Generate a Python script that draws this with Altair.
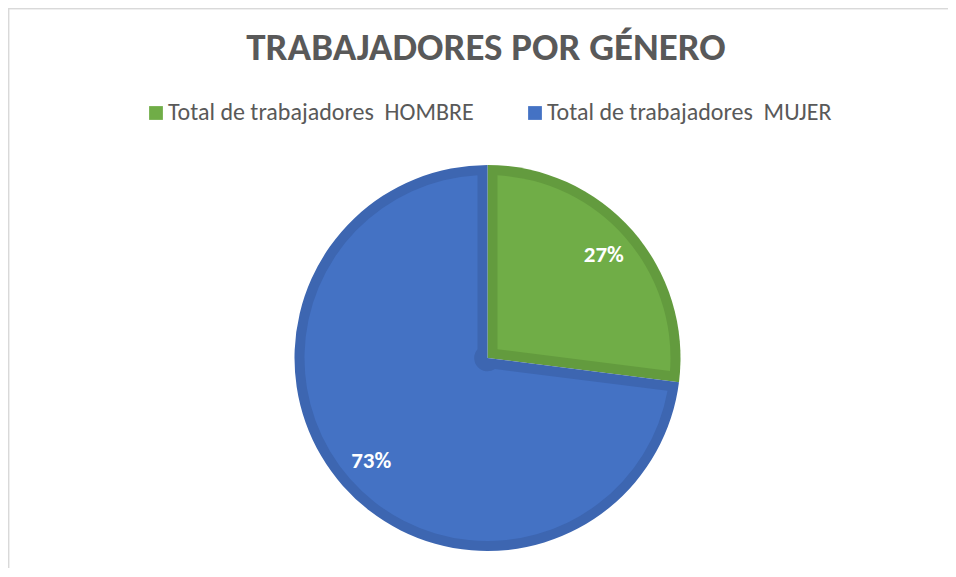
import math
import altair as alt
import pandas as pd

categories = ["Total de trabajadores\u00a0 HOMBRE", "Total de trabajadores\u00a0 MUJER"]
values = [27, 73]
labels = ["27%", "73%"]
order = [0, 1]
light_colors = ["#70AD47", "#4472C4"]
dark_colors = ["#639B3E", "#3D66B1"]

df = pd.DataFrame({
    "cat": categories,
    "value": values,
    "label": labels,
    "idx": order,
    "dark": dark_colors,
})

FONT = "Calibri, Carlito, 'Open Sans', sans-serif"
W, H = 940, 560
CX, CY = 479.5, 350
R_OUT = 193
BAND = 10
R_IN = R_OUT - BAND
APEX = 13.3
pad = 2 * math.asin(BAND / math.sqrt(APEX ** 2 + R_IN ** 2))

base = alt.Chart(df)
theta = alt.Theta("value:Q", stack=True)
ordr = alt.Order("idx:Q")

dark = base.mark_arc(outerRadius=R_OUT, strokeWidth=0).encode(
    theta=theta,
    order=ordr,
    fill=alt.Fill("dark:N", scale=None),
    x=alt.value(CX),
    y=alt.value(CY),
)

light = base.mark_arc(outerRadius=R_IN, innerRadius=APEX, padAngle=pad, strokeWidth=0).encode(
    theta=theta,
    order=ordr,
    color=alt.Color(
        "cat:N",
        scale=alt.Scale(domain=categories, range=light_colors),
        sort=categories,
        legend=alt.Legend(
            title=None,
            orient="none",
            legendX=136,
            legendY=93,
            direction="horizontal",
            symbolType="square",
            symbolSize=190,
            symbolStrokeWidth=0,
            labelFont=FONT,
            labelFontSize=24,
            labelColor="#595959",
            labelOffset=0,
            columnPadding=49,
            labelLimit=0,
            padding=0,
        ),
    ),
    x=alt.value(CX),
    y=alt.value(CY),
)

text = base.mark_text(
    font=FONT, fontSize=23, fontWeight="bold", color="white", radius=155
).encode(
    theta=theta,
    order=ordr,
    text="label:N",
    x=alt.value(CX),
    y=alt.value(CY),
)

border_left = base.mark_rule(color="#D9D9D9", strokeWidth=1.5).encode(
    x=alt.value(0.5), y=alt.value(0), y2=alt.value(H)
)
border_top = base.mark_rule(color="#D9D9D9", strokeWidth=1.5).encode(
    y=alt.value(0.5), x=alt.value(0), x2=alt.value(W)
)

chart = alt.layer(border_left, border_top, dark, light, text).properties(
    width=W,
    height=H,
    autosize=alt.AutoSizeParams(type="none"),
    padding=0,
    title=alt.TitleParams(
        "TRABAJADORES POR GÉNERO",
        font=FONT,
        fontSize=39,
        fontWeight="bold",
        color="#595959",
        anchor="middle",
        frame="group",
        baseline="alphabetic",
        offset=-92,
        dx=8,
    ),
).configure_view(stroke=None).configure(background="white")

chart.save("out.html", embed_options={"renderer": "svg", "actions": False})
